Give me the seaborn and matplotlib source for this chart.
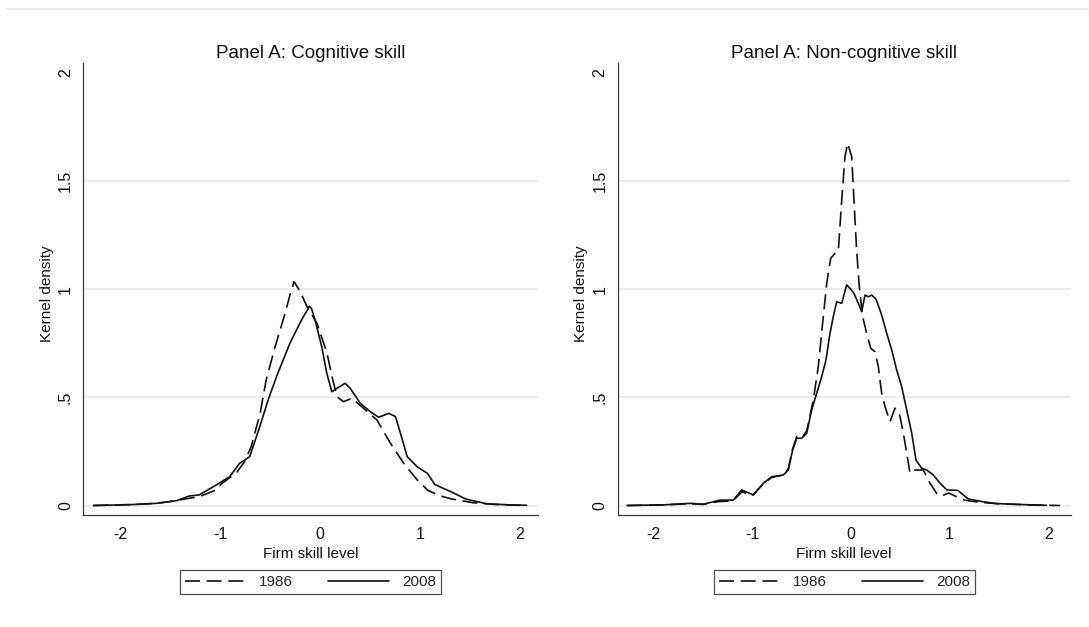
import numpy as np
import pandas as pd
import matplotlib
matplotlib.use("Agg")
import matplotlib.pyplot as plt
from matplotlib.lines import Line2D
import seaborn as sns

# ---------------- data ----------------
panel_titles = ["Panel A: Cognitive skill", "Panel A: Non-cognitive skill"]
series_labels = ["1986", "2008"]
x_ticks = [-2, -1, 0, 1, 2]
x_tick_labels = ["-2", "-1", "0", "1", "2"]
y_ticks = [0, 0.5, 1, 1.5, 2]
y_tick_labels = ["0", ".5", "1", "1.5", "2"]

cog_1986_x = [-2.27, -1.90, -1.64, -1.51, -1.29, -1.21, -1.04, -0.99, -0.84, -0.76,
              -0.69, -0.60, -0.54, -0.45, -0.35, -0.30, -0.26, -0.20, -0.13, -0.03,
              0.07, 0.12, 0.17, 0.235, 0.32, 0.437, 0.571, 0.705, 0.839, 0.974,
              1.08, 1.20, 1.32, 1.53, 1.75, 2.00, 2.07]
cog_1986_y = [0.0, 0.004, 0.010, 0.018, 0.035, 0.041, 0.072, 0.100, 0.150, 0.200,
              0.272, 0.427, 0.580, 0.734, 0.889, 0.975, 1.035, 0.990, 0.919, 0.842,
              0.704, 0.596, 0.503, 0.480, 0.496, 0.449, 0.395, 0.288, 0.195, 0.118,
              0.070, 0.045, 0.030, 0.013, 0.005, 0.001, 0.0]

cog_2008_x = [-2.27, -1.90, -1.64, -1.44, -1.31, -1.21, -1.04, -0.906, -0.806, -0.705,
              -0.604, -0.52, -0.436, -0.369, -0.302, -0.235, -0.168, -0.125, -0.107, -0.085,
              -0.05, 0.017, 0.068, 0.118, 0.168, 0.252, 0.302, 0.403, 0.504, 0.587,
              0.688, 0.756, 0.806, 0.873, 0.974, 1.075, 1.15, 1.32, 1.46, 1.67,
              1.90, 2.07]
cog_2008_y = [0.0, 0.004, 0.010, 0.022, 0.044, 0.049, 0.095, 0.133, 0.195, 0.226,
              0.364, 0.488, 0.596, 0.673, 0.750, 0.812, 0.873, 0.905, 0.922, 0.910,
              0.858, 0.734, 0.611, 0.526, 0.542, 0.565, 0.542, 0.473, 0.434, 0.408,
              0.426, 0.411, 0.334, 0.226, 0.179, 0.149, 0.097, 0.062, 0.030, 0.008,
              0.003, 0.001]

non_1986_x = [-2.27, -1.90, -1.63, -1.50, -1.35, -1.25, -1.19, -1.105, -1.00, -0.889,
              -0.804, -0.687, -0.636, -0.592, -0.551, -0.500, -0.449, -0.382, -0.332, -0.281,
              -0.246, -0.206, -0.162, -0.129, -0.094, -0.061, -0.034, 0.007, 0.030, 0.057,
              0.084, 0.118, 0.159, 0.200, 0.243, 0.277, 0.311, 0.345, 0.396, 0.446,
              0.490, 0.531, 0.571, 0.598, 0.649, 0.733, 0.801, 0.869, 0.920, 0.990,
              1.05, 1.15, 1.30, 1.50, 1.80, 2.12]
non_1986_y = [0.0, 0.003, 0.008, 0.005, 0.018, 0.020, 0.025, 0.064, 0.046, 0.100,
              0.130, 0.141, 0.170, 0.262, 0.318, 0.311, 0.345, 0.488, 0.642, 0.873,
              1.028, 1.143, 1.166, 1.174, 1.413, 1.613, 1.675, 1.613, 1.413, 1.181,
              1.012, 0.873, 0.796, 0.727, 0.711, 0.642, 0.519, 0.457, 0.388, 0.450,
              0.426, 0.334, 0.226, 0.149, 0.164, 0.164, 0.103, 0.056, 0.044, 0.058,
              0.045, 0.025, 0.015, 0.008, 0.003, 0.0]

non_2008_x = [-2.27, -1.90, -1.63, -1.50, -1.46, -1.33, -1.194, -1.109, -0.991, -0.889,
              -0.804, -0.687, -0.636, -0.592, -0.551, -0.500, -0.449, -0.399, -0.348, -0.297,
              -0.254, -0.213, -0.180, -0.145, -0.094, -0.044, -0.010, 0.030, 0.074, 0.108,
              0.142, 0.176, 0.210, 0.254, 0.311, 0.362, 0.413, 0.463, 0.514, 0.565,
              0.616, 0.659, 0.717, 0.768, 0.835, 0.903, 0.971, 1.083, 1.19, 1.33,
              1.47, 1.82, 1.98]
non_2008_y = [0.0, 0.003, 0.010, 0.006, 0.010, 0.025, 0.025, 0.072, 0.049, 0.103,
              0.133, 0.141, 0.164, 0.257, 0.311, 0.311, 0.334, 0.442, 0.519, 0.596,
              0.673, 0.796, 0.873, 0.942, 0.935, 1.020, 1.004, 0.981, 0.935, 0.896,
              0.973, 0.965, 0.973, 0.954, 0.881, 0.796, 0.719, 0.627, 0.549, 0.442,
              0.334, 0.210, 0.172, 0.164, 0.141, 0.103, 0.072, 0.070, 0.030, 0.018,
              0.009, 0.003, 0.001]

# ---------------- style ----------------
sns.set_theme(style="white")
plt.rcParams["font.family"] = ["Liberation Sans", "DejaVu Sans"]
plt.rcParams["axes.unicode_minus"] = False

W, H = 1089, 627
fig = plt.figure(figsize=(W / 100, H / 100), dpi=100)
fig.patch.set_facecolor("white")


def rect(l, t, r, b):
    return [l / W, 1 - b / H, (r - l) / W, (b - t) / H]


panels = [
    dict(title=panel_titles[0], box=(83.4, 63, 537.7, 515), xlim=(-2.371, 2.181),
         d86=(cog_1986_x, cog_1986_y), d08=(cog_2008_x, cog_2008_y)),
    dict(title=panel_titles[1], box=(617.7, 63, 1070.7, 515), xlim=(-2.366, 2.228),
         d86=(non_1986_x, non_1986_y), d08=(non_2008_x, non_2008_y)),
]

axis_col = "#3a3a3a"
txt_col = "#111111"
for p in panels:
    l, t, r, b = p["box"]
    ax = fig.add_axes(rect(l, t, r, b))
    ax.set_facecolor("white")
    for v in y_ticks[:-1]:
        ax.axhline(v, color="#e6e6e6", lw=1.1, zorder=0)
    df86 = pd.DataFrame({"x": p["d86"][0], "y": p["d86"][1]})
    df08 = pd.DataFrame({"x": p["d08"][0], "y": p["d08"][1]})
    sns.lineplot(data=df86, x="x", y="y", ax=ax, color=txt_col, lw=1.2,
                 linestyle=(0, (9, 4)), estimator=None, sort=True, zorder=3)
    sns.lineplot(data=df08, x="x", y="y", ax=ax, color=txt_col, lw=1.2,
                 linestyle="-", estimator=None, sort=True, zorder=3)
    ax.set_xlim(*p["xlim"])
    ax.set_ylim(-0.0439, 2.046)
    ax.set_xticks(x_ticks)
    ax.set_xticklabels(x_tick_labels)
    ax.set_yticks(y_ticks)
    ax.set_yticklabels(y_tick_labels, rotation=90, va="center")
    for s in ["top", "right"]:
        ax.spines[s].set_visible(False)
    for s in ["left", "bottom"]:
        ax.spines[s].set_color(axis_col)
        ax.spines[s].set_linewidth(0.9)
    ax.tick_params(axis="both", direction="out", length=4.5, width=0.8,
                   color=axis_col, labelsize=11.5, labelcolor=txt_col)
    ax.tick_params(axis="x", pad=4)
    ax.tick_params(axis="y", pad=3)
    ax.set_xlabel("Firm skill level", fontsize=11, color=txt_col)
    ax.xaxis.set_label_coords(0.5, (515 - 554) / (b - t))
    ax.xaxis.label.set_va("center")
    ax.set_ylabel("Kernel density", fontsize=11, color=txt_col)
    ax.yaxis.set_label_coords(-36.5 / (r - l), 0.49)
    ax.yaxis.label.set_va("center")
    cx = (l + r) / 2
    fig.text(cx / W, 1 - 53.5 / H, p["title"], ha="center", va="center",
             fontsize=13.5, color=txt_col)
    handles = [Line2D([], [], color=txt_col, lw=1.2, linestyle=(0, (9, 4))),
               Line2D([], [], color=txt_col, lw=1.2, linestyle="-")]
    leg = ax.legend(handles, series_labels, loc="center",
                    bbox_to_anchor=(cx / W, 1 - 582 / H), bbox_transform=fig.transFigure,
                    ncol=2, frameon=True, fancybox=False, fontsize=11,
                    handlelength=4.0, handletextpad=0.85, columnspacing=2.3,
                    borderpad=0.32, borderaxespad=0)
    leg.get_frame().set_edgecolor("#222222")
    leg.get_frame().set_linewidth(0.9)

# thin separator line at the very top
fig.add_artist(Line2D([7 / W, 1.0], [1 - 8.6 / H, 1 - 8.6 / H], color="#e1e8ec", lw=1.2))

fig.savefig("out.png", dpi=100, facecolor="white")
